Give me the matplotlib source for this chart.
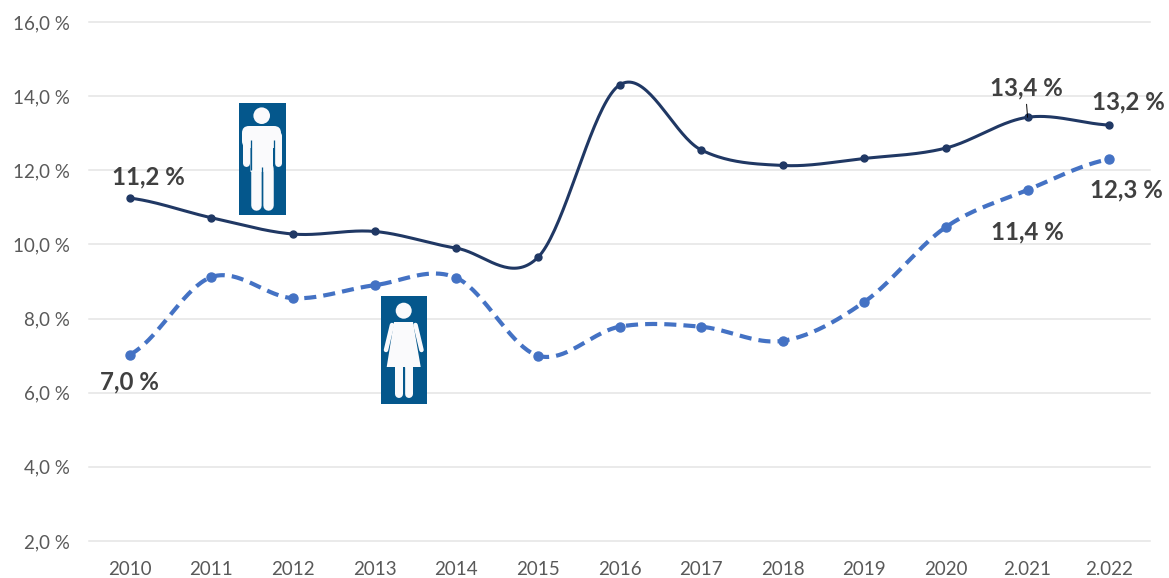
import numpy as np
import matplotlib
matplotlib.use('Agg')
import matplotlib.pyplot as plt
from matplotlib.patches import Rectangle, Circle, Polygon, FancyBboxPatch
from matplotlib.lines import Line2D
from matplotlib.transforms import Affine2D

plt.rcParams['font.family'] = ['Lato', 'DejaVu Sans']

years = ['2010', '2011', '2012', '2013', '2014', '2015', '2016', '2017', '2018', '2019', '2020', '2.021', '2.022']
men = [11.25, 10.72, 10.28, 10.35, 9.90, 9.65, 14.30, 12.55, 12.13, 12.32, 12.60, 13.43, 13.22]
women = [7.03, 9.12, 8.55, 8.90, 9.10, 7.00, 7.78, 7.78, 7.40, 8.45, 10.47, 11.47, 12.30]
yticks = [2, 4, 6, 8, 10, 12, 14, 16]
ylabels = ['2,0 %', '4,0 %', '6,0 %', '8,0 %', '10,0 %', '12,0 %', '14,0 %', '16,0 %']

# index in series, text, offset in pixels
men_labels = [(0, '11,2 %', 19, 21), (11, '13,4 %', -1, 29), (12, '13,2 %', 19, 23)]
women_labels = [(0, '7,0 %', 0, -27), (11, '11,4 %', 0, -42), (12, '12,3 %', 17, -31)]

NAVY = '#203864'
BLUE = '#4472C4'
ICON = '#04578C'
GRID = '#E4E4E4'
FIGURE = '#FAFAFC'


def smooth(vals, n=40):
    # same kind of curve excel draws for "smoothed line"
    y = np.array(vals, dtype=float)
    x = np.arange(len(y), dtype=float)
    m = np.zeros(len(y))
    m[1:-1] = (y[2:] - y[:-2]) / 2
    m[0] = (y[1] - y[0]) / 2
    m[-1] = (y[-1] - y[-2]) / 2
    xs, ys = [], []
    t = np.linspace(0, 1, n)
    for i in range(len(y) - 1):
        p0, p3 = y[i], y[i + 1]
        p1 = p0 + m[i] / 3
        p2 = p3 - m[i + 1] / 3
        xs.append(x[i] + t)
        ys.append((1 - t) ** 3 * p0 + 3 * (1 - t) ** 2 * t * p1 + 3 * (1 - t) * t ** 2 * p2 + t ** 3 * p3)
    return np.concatenate(xs), np.concatenate(ys)


fig = plt.figure(figsize=(11.69, 5.78), dpi=100)
ax = fig.add_axes([89 / 1169, 1 - 541 / 578, (1150 - 89) / 1169, (541 - 22) / 578])

pos = np.arange(len(years))
ax.set_xlim(-0.5, len(years) - 0.5)
ax.set_ylim(2, 16)

for s in ax.spines.values():
    s.set_visible(False)
ax.set_yticks(yticks)
ax.set_yticklabels(ylabels)
ax.set_xticks(pos)
ax.set_xticklabels(years)
ax.tick_params(axis='both', length=0, labelsize=13.5, labelcolor='#595959')
ax.tick_params(axis='y', pad=13.5)
ax.tick_params(axis='x', pad=14.5)
for v in yticks:
    ax.axhline(v, color=GRID, lw=1.1, zorder=1, clip_on=False)

sx, sy = smooth(men)
ax.plot(sx, sy, color=NAVY, lw=2.2, zorder=3, clip_on=False)
ax.plot(pos, men, 'o', color=NAVY, ms=5, zorder=4, clip_on=False)

sx, sy = smooth(women)
ax.plot(sx, sy, color=BLUE, lw=3.0, ls=(0, (2.9, 1.7)), zorder=3, clip_on=False)
ax.plot(pos, women, 'o', color=BLUE, ms=6.5, zorder=4, clip_on=False)

px = 72 / 100
for series, labels in ((men, men_labels), (women, women_labels)):
    for i, txt, dx, dy in labels:
        ax.annotate(txt, (pos[i], series[i]), xytext=(dx * px, dy * px), textcoords='offset points',
                    ha='center', va='center', fontsize=17.3, fontweight='bold', color='#404040', zorder=6)

# icons, placed in image pixels
tr = Affine2D().scale(1 / 1169, -1 / 578).translate(0, 1) + fig.transFigure


def add(p):
    p.set_transform(tr)
    p.set_clip_on(False)
    p.set_zorder(5)
    fig.add_artist(p)


def limb(pts, w, color=FIGURE, cap='round'):
    l = Line2D([p[0] for p in pts], [p[1] for p in pts], color=color, lw=w * px,
               solid_capstyle=cap, solid_joinstyle='round', transform=tr, zorder=6)
    fig.add_artist(l)


def round_box(x0, y0, x1, y1, r):
    b = FancyBboxPatch((x0 + r, y0 + r), x1 - x0 - 2 * r, y1 - y0 - 2 * r,
                       boxstyle='round,pad=%f,rounding_size=%f' % (r, r),
                       fc=FIGURE, ec='none', transform=tr, zorder=6, clip_on=False)
    fig.add_artist(b)


# man
add(Rectangle((239, 103), 47, 112, fc=ICON, ec='none'))
fig.add_artist(Circle((261.7, 115.7), 8.3, fc=FIGURE, ec='none', transform=tr, zorder=6))
round_box(242, 126, 281, 148, 7)
round_box(250.5, 130, 273, 172, 0.5)
limb([(245.5, 135), (245.5, 163)], 7)
limb([(277.5, 135), (277.5, 163)], 7)
limb([(256, 168), (256, 205)], 10.5)
limb([(267.5, 168), (267.5, 205)], 10.5)
limb([(250.5, 140), (250.5, 170)], 1.3, ICON, 'butt')
limb([(273.5, 140), (273.5, 170)], 1.3, ICON, 'butt')
limb([(261.7, 167), (261.7, 211)], 1.3, ICON, 'butt')

# woman
add(Rectangle((381, 296), 46, 108, fc=ICON, ec='none'))
fig.add_artist(Circle((403.7, 310.7), 8, fc=FIGURE, ec='none', transform=tr, zorder=6))
skirt = Polygon([(394, 322), (413, 322), (420.7, 367), (386.7, 367)], closed=True,
                fc=FIGURE, ec='none', transform=tr, zorder=6)
fig.add_artist(skirt)
limb([(392, 325), (386, 350)], 4.5)
limb([(415.5, 325), (421.5, 350)], 4.5)
limb([(399, 365), (399, 394)], 8)
limb([(408.5, 365), (408.5, 394)], 8)
limb([(403.7, 367), (403.7, 399)], 1.3, ICON, 'butt')

# leader line of the 13,4 label
ax.annotate('', (pos[11], men[11]), xytext=(-1 * px, 13 * px), textcoords='offset points',
            arrowprops=dict(arrowstyle='-', color='black', lw=0.7, shrinkA=0, shrinkB=0), zorder=5)

fig.savefig('out.png', dpi=100, facecolor='white')
